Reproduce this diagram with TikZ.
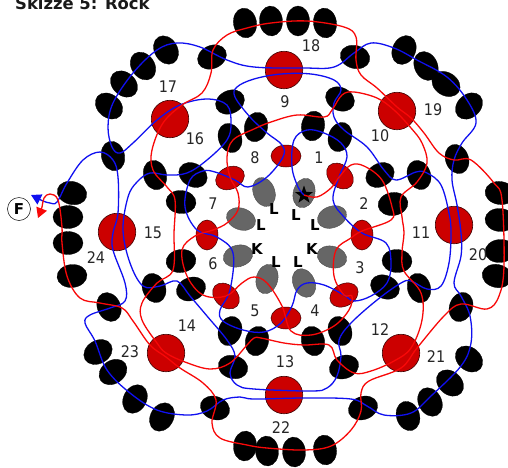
\documentclass[tikz,border=0pt]{standalone}
\usepackage{fontspec}
\setmainfont{DejaVu Sans}
\newfontfamily\numf{DejaVu Sans Condensed}
\usetikzlibrary{shapes.geometric,arrows.meta}
\definecolor{dred}{HTML}{CC0000}
\definecolor{dgray}{HTML}{666666}
\definecolor{lblue}{HTML}{1010F0}
\definecolor{lred}{HTML}{F80808}
\tikzset{
  blk/.style={ellipse,fill=black,draw=black,line width=.3pt,inner sep=0pt,minimum width=30pt,minimum height=23pt},
  rsm/.style={ellipse,fill=dred,draw=black!70!dred,line width=.5pt,inner sep=0pt,minimum width=30pt,minimum height=22pt},
  gry/.style={ellipse,fill=dgray,draw=black!70,line width=.5pt,dash pattern=on .8pt off .4pt,inner sep=0pt,minimum width=30pt,minimum height=21.5pt},
  big/.style={circle,fill=dred,draw=black!70!dred,line width=.6pt,inner sep=0pt,minimum size=37.5pt},
  num/.style={font=\numf\fontsize{16}{17}\selectfont,text=black!85,inner sep=0pt},
  lab/.style={font=\bfseries\fontsize{15}{16}\selectfont,inner sep=0pt},
}
\begin{document}
\begin{tikzpicture}[x=1pt,y=-1pt]
\useasboundingbox (0,0) rectangle (508,467);
\node[font=\bfseries\fontsize{16.4}{17}\selectfont,anchor=base west,inner sep=0pt,text=black!90] (title) at (15,9) {Skizze 5: Rock};
% black ellipses
\foreach \x/\y/\a [count=\i] in {
 245/23/-80,271/21/-85,298/21/90,325/23/-82,
 404/50/65,426/66/-65,446/84/-32,469/106/42,
 500/193/-8,500/220/-5,500/251/5,497/276/-12,
 469/359/-40,450/383/-42,430/402/-62,408/416/-72,
 325/450/-82,294/452/-85,267/451/-85,245/446/85,
 162/417/60,135/399/62,113/372/35,98/352/30,
 72/276/5,68/243/0,68/217/0,72/193/-15,
 109/106/-40,124/84/-42,143/66/-55,166/50/-60,
 113/156/-75,212/57/25,355/57/-15,457/159/-70,461/307/70,363/408/20,215/408/-20,109/307/-65,
 230/102/25,230/138/-70,155/175/-75,193/175/-30,181/202/-5,
 340/99/-25,313/126/80,340/137/70,380/175/30,419/175/-70,393/204/8,
 397/261/-3,385/287/-25,419/288/-75,340/331/-70,313/341/-75,344/367/20,
 181/261/8,154/288/-70,191/289/20,230/331/70,233/367/-15,257/341/75,256/127/75}
  \node[blk,rotate=\a] (b\i) at (\x,\y) {};
% small red ellipses
\foreach \x/\y/\a [count=\i] in {286/156/0,340/176/-42,362/235/90,344/295/30,286/318/0,226/296/-42,207/235/90,230/178/25}
  \node[rsm,rotate=\a] (r\i) at (\x,\y) {};
% gray ellipses
\foreach \x/\y/\a [count=\i] in {264/192/-70,304/193/75,332/217/20,332/257/-15,304/283/-65,267/279/75,238/256/15,241/219/-20}
  \node[gry,rotate=\a] (g\i) at (\x,\y) {};
% big red circles
\foreach \x/\y [count=\i] in {284/70,397/111,454/225,401/353,284/395,166/353,117/232,170/119}
  \node[big] (c\i) at (\x,\y) {};
% star
\node[star,star points=5,star point ratio=2.5,fill=black,inner sep=0pt,minimum size=19pt] (star) at (304,195) {};
\coordinate (starc) at (304,195);
% F marker
\node[circle,draw=black,line width=.5pt,inner sep=0pt,minimum size=23pt,font=\bfseries\fontsize{15}{16}\selectfont] (F) at (19,209) {F};
\coordinate (bluetip) at (31,195);
\coordinate (redtip) at (38,218);
% blue line
\draw[{Triangle[width=11pt,length=10pt]}-,lblue,line width=1.3pt] plot[smooth,tension=.6] coordinates {(bluetip) (37,198) (43,201) (50,203) (57,202) (67,183) (83,160) (100,152) (113,160) (118,177) (118,213) (113,233) (113,250) (125,283) (125,301) (110,308) (90,315) (85,323) (95,341) (107,370) (130,393) (157,410) (187,415) (207,411) (223,400) (240,397) (254,399) (304,398) (351,399) (367,406) (384,415) (411,413) (431,396) (461,366) (471,343) (470,316) (461,296) (454,283) (461,256) (461,233) (457,205) (452,180) (454,160) (462,143) (476,123) (467,100) (447,77) (417,60) (394,48) (371,43) (354,53) (334,67) (304,68) (254,67) (227,60) (200,47) (177,43) (157,50) (133,73) (113,103) (108,127) (112,147) (120,153) (133,143) (157,120) (180,105) (207,99) (227,105) (231,123) (227,140) (207,160) (187,173) (167,175) (150,173) (137,182) (128,197) (123,230) (130,263) (143,286) (160,286) (177,281) (190,296) (207,316) (227,340) (235,356) (230,373) (237,385) (254,389) (311,391) (327,388) (337,376) (341,356) (339,340) (351,323) (377,300) (401,283) (411,281) (427,289) (441,286) (449,263) (451,233) (449,213) (441,185) (427,173) (416,172) (396,180) (384,170) (367,147) (344,130) (334,117) (334,103) (341,90) (334,80) (311,74) (281,74) (254,79) (237,87) (235,97) (250,117) (267,133) (282,145) (283,157) (267,177) (248,187) (235,180) (215,172) (203,171) (190,180) (185,207) (197,230) (217,237) (233,253) (230,290) (220,310) (223,321) (243,330) (264,332) (281,323) (292,306) (297,290) (307,283) (324,285) (344,295) (354,301) (371,296) (387,283) (391,263) (386,243) (362,233) (344,217) (333,200) (339,177) (347,157) (341,143) (324,133) (307,130) (294,140) (292,167) (298,187) (starc)};
% red line
\draw[{Triangle[width=11pt,length=10pt]}-,lred,line width=1.3pt] plot[smooth,tension=.6] coordinates {(redtip) (42,207) (44,198) (50,194) (58,200) (62,227) (62,243) (67,276) (80,298) (100,303) (122,308) (133,321) (150,345) (166,357) (180,368) (203,383) (216,400) (212,423) (220,438) (247,445) (267,448) (304,450) (331,446) (351,430) (361,411) (361,393) (369,381) (401,368) (417,348) (444,316) (461,304) (487,309) (499,296) (504,266) (502,200) (494,183) (471,160) (454,160) (439,153) (424,133) (411,118) (397,107) (377,88) (361,75) (356,60) (356,37) (344,27) (307,21) (271,23) (247,28) (227,35) (213,50) (211,73) (202,93) (182,105) (163,123) (152,150) (153,170) (167,187) (175,200) (174,233) (173,270) (157,283) (142,303) (142,320) (157,343) (166,353) (185,362) (210,369) (230,363) (247,345) (254,338) (261,338) (284,343) (304,345) (329,345) (337,360) (354,373) (371,371) (394,361) (411,348) (422,320) (421,293) (404,271) (402,253) (404,233) (402,217) (401,197) (417,182) (427,163) (422,143) (411,128) (394,110) (377,98) (354,92) (342,95) (332,110) (324,117) (297,115) (271,122) (254,129) (233,140) (227,157) (230,177) (238,193) (238,210) (227,223) (213,230) (195,236) (182,250) (187,276) (203,295) (226,296) (242,283) (254,277) (267,283) (282,306) (291,331) (311,335) (334,326) (349,310) (352,296) (344,295) (334,276) (336,250) (351,238) (362,231) (391,220) (392,207) (382,180) (364,166) (351,165) (340,176) (331,188) (317,197) (starc)};
% numbers
\foreach \t/\x/\y in {1/319/158,2/364/204,3/360/268,4/315/311,5/255/311,6/213/264,7/213/204,8/255/158,9/285/102,10/380/136,11/421/233,12/380/330,13/285/362,14/187/326,15/153/233,16/195/139,17/168/87,18/311/46,19/433/110,20/478/255,21/436/357,22/281/428,23/130/352,24/96/258}
  \node[num] (n\t) at (\x,\y) {\t};
% letters
\foreach \t/\x/\y [count=\i] in {L/274/209,L/296/215,L/315/225,L/261/225,K/257/249,L/276/262,L/298/262,K/312/249}
  \node[lab] (l\i) at (\x,\y) {\t};
\end{tikzpicture}
\end{document}
